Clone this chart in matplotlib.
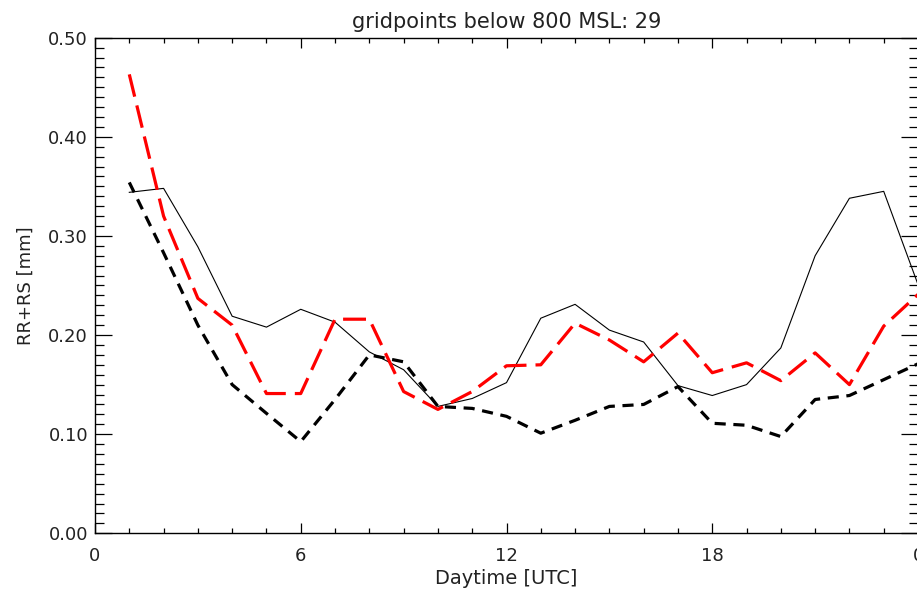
import matplotlib
matplotlib.use("Agg")
import matplotlib.pyplot as plt
from matplotlib.ticker import MultipleLocator, FixedLocator

plt.rcParams['font.family'] = ['DejaVu Sans']
plt.rcParams['lines.scale_dashes'] = False

hours = list(range(1, 25))
solid_black = [0.344, 0.348, 0.289, 0.219, 0.208, 0.226, 0.213, 0.183, 0.165, 0.128,
               0.136, 0.152, 0.217, 0.231, 0.205, 0.193, 0.149, 0.139, 0.150, 0.187,
               0.280, 0.338, 0.345, 0.251]
red_dashed = [0.463, 0.320, 0.237, 0.210, 0.141, 0.141, 0.216, 0.216, 0.143, 0.125,
              0.143, 0.169, 0.170, 0.212, 0.195, 0.173, 0.202, 0.162, 0.172, 0.154,
              0.182, 0.150, 0.209, 0.241]
black_dashed = [0.354, 0.283, 0.210, 0.150, 0.121, 0.0925, 0.135, 0.180, 0.173, 0.128,
                0.126, 0.118, 0.101, 0.114, 0.128, 0.130, 0.148, 0.111, 0.109, 0.0976,
                0.135, 0.139, 0.155, 0.171]
xticks = [0, 6, 12, 18, 24]
xticklabels = ['0', '6', '12', '18', '0']
yticks = [0.0, 0.1, 0.2, 0.3, 0.4, 0.5]
yticklabels = ['0.00', '0.10', '0.20', '0.30', '0.40', '0.50']
title = 'gridpoints below 800 MSL: 29'

fig = plt.figure(figsize=(9.17, 5.93), dpi=100)
ax = fig.add_axes([95/917, (593-533.3)/593, 823/917, 495.6/593])

ax.plot(hours, solid_black, color='black', lw=0.8)
ax.plot(hours, red_dashed, color='#ff0000', lw=2.3, dashes=(16.5, 6.5))
ax.plot(hours, black_dashed, color='black', lw=2.3, dashes=(8, 5.5))

ax.set_xlim(0, 24)
ax.set_ylim(0, 0.5)
ax.xaxis.set_major_locator(FixedLocator(xticks))
ax.set_xticklabels(xticklabels)
ax.xaxis.set_minor_locator(MultipleLocator(1))
ax.yaxis.set_major_locator(FixedLocator(yticks))
ax.set_yticklabels(yticklabels)
ax.yaxis.set_minor_locator(MultipleLocator(0.01))

ax.tick_params(axis='both', which='both', direction='in', top=True, right=True,
               labelsize=13, width=0.9, color='black', labelcolor='#222222')
ax.tick_params(axis='x', which='major', length=7.2, pad=10)
ax.tick_params(axis='x', which='minor', length=3.6)
ax.tick_params(axis='y', which='major', length=12, pad=5)
ax.tick_params(axis='y', which='minor', length=6.5)
for s in ax.spines.values():
    s.set_linewidth(1.0)

ax.set_title(title, fontsize=15, pad=7, color='#222222')
ax.set_xlabel('Daytime [UTC]', fontsize=14, labelpad=3, color='#222222')
ax.set_ylabel('RR+RS [mm]', fontsize=13, labelpad=10, color='#222222')

fig.savefig('out.png', dpi=100)
